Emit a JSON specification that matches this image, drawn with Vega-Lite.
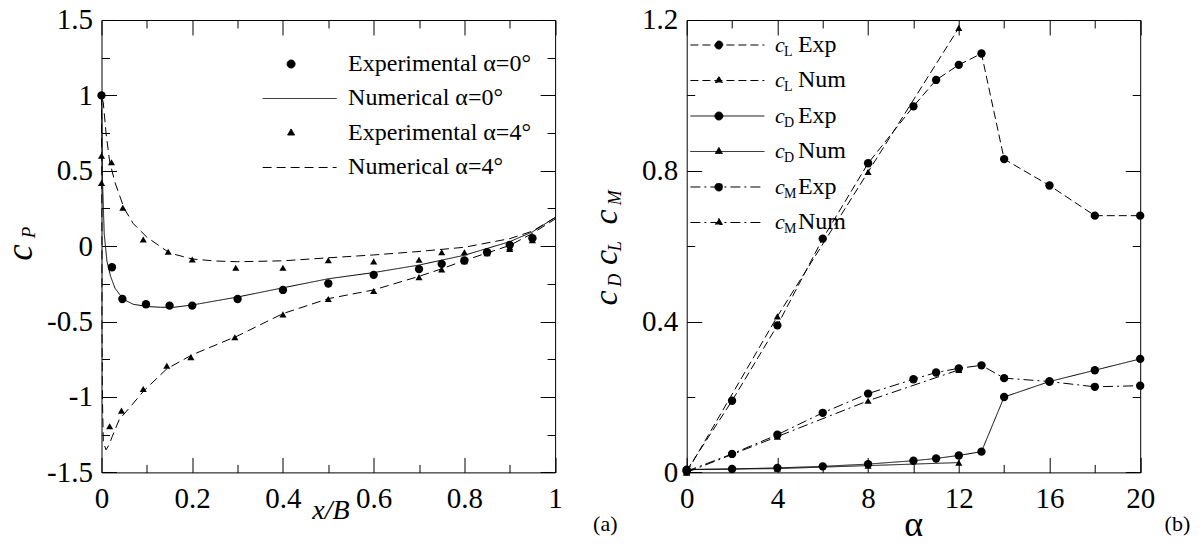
{
  "$schema": "https://vega.github.io/schema/vega-lite/v6.json",
  "padding": {"left": 0.5, "top": 5, "right": 5, "bottom": 5},
  "bounds": "flush",
  "spacing": 131.2,
  "resolve": {
    "scale": {"strokeDash": "independent", "opacity": "independent", "strokeWidth": "independent", "shape": "independent", "size": "independent"},
    "legend": {"strokeDash": "independent", "opacity": "independent", "strokeWidth": "independent"}
  },
  "datasets": {
    "cpNum": [
      {"series": "Numerical α=0°", "i": 0, "x": 0, "cp": 1.0},
      {"series": "Numerical α=0°", "i": 1, "x": 0.002, "cp": 0.45},
      {"series": "Numerical α=0°", "i": 2, "x": 0.006, "cp": 0.08},
      {"series": "Numerical α=0°", "i": 3, "x": 0.012, "cp": -0.1},
      {"series": "Numerical α=0°", "i": 4, "x": 0.02, "cp": -0.2},
      {"series": "Numerical α=0°", "i": 5, "x": 0.03, "cp": -0.28},
      {"series": "Numerical α=0°", "i": 6, "x": 0.04, "cp": -0.32},
      {"series": "Numerical α=0°", "i": 7, "x": 0.05, "cp": -0.355},
      {"series": "Numerical α=0°", "i": 8, "x": 0.07, "cp": -0.385},
      {"series": "Numerical α=0°", "i": 9, "x": 0.1, "cp": -0.4},
      {"series": "Numerical α=0°", "i": 10, "x": 0.13, "cp": -0.405},
      {"series": "Numerical α=0°", "i": 11, "x": 0.16, "cp": -0.405},
      {"series": "Numerical α=0°", "i": 12, "x": 0.2, "cp": -0.39},
      {"series": "Numerical α=0°", "i": 13, "x": 0.3, "cp": -0.337},
      {"series": "Numerical α=0°", "i": 14, "x": 0.4, "cp": -0.276},
      {"series": "Numerical α=0°", "i": 15, "x": 0.5, "cp": -0.216},
      {"series": "Numerical α=0°", "i": 16, "x": 0.6, "cp": -0.175},
      {"series": "Numerical α=0°", "i": 17, "x": 0.7, "cp": -0.125},
      {"series": "Numerical α=0°", "i": 18, "x": 0.8, "cp": -0.06},
      {"series": "Numerical α=0°", "i": 19, "x": 0.9, "cp": 0.03},
      {"series": "Numerical α=0°", "i": 20, "x": 0.95, "cp": 0.095},
      {"series": "Numerical α=0°", "i": 21, "x": 1.0, "cp": 0.19},
      {"series": "Numerical α=4°", "i": 0, "x": 1.0, "cp": 0.19},
      {"series": "Numerical α=4°", "i": 1, "x": 0.95, "cp": 0.1},
      {"series": "Numerical α=4°", "i": 2, "x": 0.9, "cp": 0.05},
      {"series": "Numerical α=4°", "i": 3, "x": 0.8, "cp": -0.007},
      {"series": "Numerical α=4°", "i": 4, "x": 0.7, "cp": -0.035},
      {"series": "Numerical α=4°", "i": 5, "x": 0.6, "cp": -0.058},
      {"series": "Numerical α=4°", "i": 6, "x": 0.5, "cp": -0.077},
      {"series": "Numerical α=4°", "i": 7, "x": 0.4, "cp": -0.097},
      {"series": "Numerical α=4°", "i": 8, "x": 0.3, "cp": -0.103},
      {"series": "Numerical α=4°", "i": 9, "x": 0.25, "cp": -0.098},
      {"series": "Numerical α=4°", "i": 10, "x": 0.2, "cp": -0.085},
      {"series": "Numerical α=4°", "i": 11, "x": 0.15, "cp": -0.045},
      {"series": "Numerical α=4°", "i": 12, "x": 0.1, "cp": 0.06},
      {"series": "Numerical α=4°", "i": 13, "x": 0.07, "cp": 0.15},
      {"series": "Numerical α=4°", "i": 14, "x": 0.05, "cp": 0.25},
      {"series": "Numerical α=4°", "i": 15, "x": 0.03, "cp": 0.42},
      {"series": "Numerical α=4°", "i": 16, "x": 0.018, "cp": 0.56},
      {"series": "Numerical α=4°", "i": 17, "x": 0.01, "cp": 0.75},
      {"series": "Numerical α=4°", "i": 18, "x": 0.004, "cp": 0.95},
      {"series": "Numerical α=4°", "i": 19, "x": 0.0, "cp": 1.0},
      {"series": "Numerical α=4°", "i": 20, "x": 0.0005, "cp": 0.5},
      {"series": "Numerical α=4°", "i": 21, "x": 0.001, "cp": 0.0},
      {"series": "Numerical α=4°", "i": 22, "x": 0.001, "cp": -0.5},
      {"series": "Numerical α=4°", "i": 23, "x": 0.002, "cp": -1.0},
      {"series": "Numerical α=4°", "i": 24, "x": 0.004, "cp": -1.3},
      {"series": "Numerical α=4°", "i": 25, "x": 0.01, "cp": -1.35},
      {"series": "Numerical α=4°", "i": 26, "x": 0.016, "cp": -1.32},
      {"series": "Numerical α=4°", "i": 27, "x": 0.024, "cp": -1.26},
      {"series": "Numerical α=4°", "i": 28, "x": 0.039, "cp": -1.15},
      {"series": "Numerical α=4°", "i": 29, "x": 0.065, "cp": -1.06},
      {"series": "Numerical α=4°", "i": 30, "x": 0.092, "cp": -0.963},
      {"series": "Numerical α=4°", "i": 31, "x": 0.144, "cp": -0.813},
      {"series": "Numerical α=4°", "i": 32, "x": 0.2, "cp": -0.72},
      {"series": "Numerical α=4°", "i": 33, "x": 0.3, "cp": -0.595},
      {"series": "Numerical α=4°", "i": 34, "x": 0.4, "cp": -0.447},
      {"series": "Numerical α=4°", "i": 35, "x": 0.5, "cp": -0.348},
      {"series": "Numerical α=4°", "i": 36, "x": 0.6, "cp": -0.29},
      {"series": "Numerical α=4°", "i": 37, "x": 0.7, "cp": -0.2},
      {"series": "Numerical α=4°", "i": 38, "x": 0.75, "cp": -0.15},
      {"series": "Numerical α=4°", "i": 39, "x": 0.8, "cp": -0.095},
      {"series": "Numerical α=4°", "i": 40, "x": 0.85, "cp": -0.045},
      {"series": "Numerical α=4°", "i": 41, "x": 0.9, "cp": 0.005},
      {"series": "Numerical α=4°", "i": 42, "x": 0.95, "cp": 0.085},
      {"series": "Numerical α=4°", "i": 43, "x": 1.0, "cp": 0.18}
    ],
    "cpExp": [
      {"series": "Experimental α=0°", "x": 0, "cp": 1.0},
      {"series": "Experimental α=0°", "x": 0.023, "cp": -0.14},
      {"series": "Experimental α=0°", "x": 0.046, "cp": -0.35},
      {"series": "Experimental α=0°", "x": 0.098, "cp": -0.385},
      {"series": "Experimental α=0°", "x": 0.15, "cp": -0.394},
      {"series": "Experimental α=0°", "x": 0.2, "cp": -0.394},
      {"series": "Experimental α=0°", "x": 0.3, "cp": -0.35},
      {"series": "Experimental α=0°", "x": 0.4, "cp": -0.29},
      {"series": "Experimental α=0°", "x": 0.5, "cp": -0.247},
      {"series": "Experimental α=0°", "x": 0.6, "cp": -0.19},
      {"series": "Experimental α=0°", "x": 0.7, "cp": -0.152},
      {"series": "Experimental α=0°", "x": 0.75, "cp": -0.117},
      {"series": "Experimental α=0°", "x": 0.8, "cp": -0.095},
      {"series": "Experimental α=0°", "x": 0.85, "cp": -0.04},
      {"series": "Experimental α=0°", "x": 0.9, "cp": 0.009},
      {"series": "Experimental α=0°", "x": 0.95, "cp": 0.053},
      {"series": "Experimental α=4°", "x": 0, "cp": 0.6},
      {"series": "Experimental α=4°", "x": 0.022, "cp": 0.557},
      {"series": "Experimental α=4°", "x": 0.047, "cp": 0.255},
      {"series": "Experimental α=4°", "x": 0.092, "cp": 0.044},
      {"series": "Experimental α=4°", "x": 0.147, "cp": -0.037},
      {"series": "Experimental α=4°", "x": 0.2, "cp": -0.088},
      {"series": "Experimental α=4°", "x": 0.296, "cp": -0.143},
      {"series": "Experimental α=4°", "x": 0.4, "cp": -0.143},
      {"series": "Experimental α=4°", "x": 0.5, "cp": -0.093},
      {"series": "Experimental α=4°", "x": 0.6, "cp": -0.101},
      {"series": "Experimental α=4°", "x": 0.7, "cp": -0.09},
      {"series": "Experimental α=4°", "x": 0.75, "cp": -0.04},
      {"series": "Experimental α=4°", "x": 0.8, "cp": -0.04},
      {"series": "Experimental α=4°", "x": 0.85, "cp": -0.035},
      {"series": "Experimental α=4°", "x": 0.9, "cp": -0.007},
      {"series": "Experimental α=4°", "x": 0, "cp": 0.42},
      {"series": "Experimental α=4°", "x": 0.018, "cp": -1.194},
      {"series": "Experimental α=4°", "x": 0.044, "cp": -1.09},
      {"series": "Experimental α=4°", "x": 0.092, "cp": -0.947},
      {"series": "Experimental α=4°", "x": 0.144, "cp": -0.793},
      {"series": "Experimental α=4°", "x": 0.197, "cp": -0.736},
      {"series": "Experimental α=4°", "x": 0.294, "cp": -0.604},
      {"series": "Experimental α=4°", "x": 0.4, "cp": -0.452},
      {"series": "Experimental α=4°", "x": 0.5, "cp": -0.35},
      {"series": "Experimental α=4°", "x": 0.6, "cp": -0.297},
      {"series": "Experimental α=4°", "x": 0.7, "cp": -0.205},
      {"series": "Experimental α=4°", "x": 0.75, "cp": -0.154},
      {"series": "Experimental α=4°", "x": 0.8, "cp": -0.1},
      {"series": "Experimental α=4°", "x": 0.85, "cp": -0.046},
      {"series": "Experimental α=4°", "x": 0.9, "cp": -0.018},
      {"series": "Experimental α=4°", "x": 0.95, "cp": 0.04}
    ],
    "coef": [
      {"series": "cL Exp", "a": 0, "c": 0.005},
      {"series": "cL Exp", "a": 2, "c": 0.19},
      {"series": "cL Exp", "a": 4, "c": 0.39},
      {"series": "cL Exp", "a": 6, "c": 0.62},
      {"series": "cL Exp", "a": 8, "c": 0.82},
      {"series": "cL Exp", "a": 10, "c": 0.971},
      {"series": "cL Exp", "a": 11, "c": 1.041},
      {"series": "cL Exp", "a": 12, "c": 1.081},
      {"series": "cL Exp", "a": 13, "c": 1.111},
      {"series": "cL Exp", "a": 14, "c": 0.831},
      {"series": "cL Exp", "a": 16, "c": 0.761},
      {"series": "cL Exp", "a": 18, "c": 0.681},
      {"series": "cL Exp", "a": 20, "c": 0.681},
      {"series": "cL Num", "a": 0, "c": 0.0},
      {"series": "cL Num", "a": 4, "c": 0.414},
      {"series": "cL Num", "a": 8, "c": 0.797},
      {"series": "cL Num", "a": 12, "c": 1.179},
      {"series": "cD Exp", "a": 0, "c": 0.007},
      {"series": "cD Exp", "a": 2, "c": 0.009},
      {"series": "cD Exp", "a": 4, "c": 0.012},
      {"series": "cD Exp", "a": 6, "c": 0.016},
      {"series": "cD Exp", "a": 8, "c": 0.022},
      {"series": "cD Exp", "a": 10, "c": 0.031},
      {"series": "cD Exp", "a": 11, "c": 0.037},
      {"series": "cD Exp", "a": 12, "c": 0.045},
      {"series": "cD Exp", "a": 13, "c": 0.055},
      {"series": "cD Exp", "a": 14, "c": 0.2},
      {"series": "cD Exp", "a": 16, "c": 0.241},
      {"series": "cD Exp", "a": 18, "c": 0.271},
      {"series": "cD Exp", "a": 20, "c": 0.301},
      {"series": "cD Num", "a": 0, "c": 0.008},
      {"series": "cD Num", "a": 4, "c": 0.01},
      {"series": "cD Num", "a": 8, "c": 0.018},
      {"series": "cD Num", "a": 12, "c": 0.026},
      {"series": "cM Exp", "a": 0, "c": 0.003},
      {"series": "cM Exp", "a": 2, "c": 0.049},
      {"series": "cM Exp", "a": 4, "c": 0.1},
      {"series": "cM Exp", "a": 6, "c": 0.158},
      {"series": "cM Exp", "a": 8, "c": 0.209},
      {"series": "cM Exp", "a": 10, "c": 0.247},
      {"series": "cM Exp", "a": 11, "c": 0.265},
      {"series": "cM Exp", "a": 12, "c": 0.276},
      {"series": "cM Exp", "a": 13, "c": 0.284},
      {"series": "cM Exp", "a": 14, "c": 0.25},
      {"series": "cM Exp", "a": 16, "c": 0.241},
      {"series": "cM Exp", "a": 18, "c": 0.227},
      {"series": "cM Exp", "a": 20, "c": 0.23},
      {"series": "cM Num", "a": 0, "c": 0.0},
      {"series": "cM Num", "a": 4, "c": 0.095},
      {"series": "cM Num", "a": 8, "c": 0.19},
      {"series": "cM Num", "a": 12, "c": 0.272}
    ]
  },
  "hconcat": [
    {
      "width": 453.6,
      "height": 452.4,
      "resolve": {"axis": {"x": "independent", "y": "independent"}},
      "layer": [
        {
          "data": {"name": "cpNum"},
          "transform": [{"filter": "datum.series == 'Numerical α=0°'"}],
          "mark": {"type": "line", "color": "black", "strokeWidth": 1},
          "encoding": {
            "x": {"field": "x", "type": "quantitative", "scale": {"domain": [0, 1], "nice": false},
              "axis": {"orient": "bottom", "values": [0, 0.2, 0.4, 0.6, 0.8, 1], "offset": -15, "tickSize": 15, "labelPadding": 12,
                "labelExpr": "toString(datum.value)",
                "title": "x/B", "titleFontStyle": "italic", "titleFontSize": 28, "titleX": 229, "titleY": 53, "titleBaseline": "middle", "titleAlign": "center", "titleAngle": 0}},
            "y": {"field": "cp", "type": "quantitative", "scale": {"domain": [-1.5, 1.5], "nice": false, "zero": false},
              "axis": {"orient": "left", "values": [-1.5, -1, -0.5, 0, 0.5, 1, 1.5], "offset": -15, "tickSize": 15, "labelPadding": 9,
                "labelExpr": "toString(datum.value)",
                "title": "c", "titleFontStyle": "italic", "titleFontSize": 37, "titleX": -85, "titleY": 232, "titleBaseline": "alphabetic", "titleAlign": "center", "titleAngle": -90}},
            "order": {"field": "i", "type": "quantitative"},
            "strokeDash": {"field": "series", "type": "nominal",
              "scale": {"domain": ["Experimental α=0°", "Numerical α=0°", "Experimental α=4°", "Numerical α=4°"], "range": [[1, 0], [1, 0], [1, 0], [9, 5]]},
              "legend": {"orient": "none", "legendX": 160.6, "legendY": 29, "title": null, "padding": 0,
                "symbolSize": 5476, "symbolStrokeWidth": 1, "symbolStrokeColor": "black", "symbolFillColor": "black",
                "clipHeight": 30, "rowPadding": 4.5, "labelOffset": 11, "labelFontSize": 24, "labelLimit": 400,
                "encode": {"symbols": {"update": {
                  "shape": {"signal": "datum.value == 'Experimental α=0°' ? 'M-0.338,0A0.108,0.108,0,1,0,-0.122,0A0.108,0.108,0,1,0,-0.338,0Z' : datum.value == 'Experimental α=4°' ? 'M-0.23,-0.11L-0.135,0.055L-0.325,0.055Z' : 'M-1,0L1,0'"},
                  "strokeDash": {"signal": "datum.value == 'Numerical α=4°' ? [3, 2] : [1, 0]"},
                  "fill": {"value": "black"}, "stroke": {"value": "black"}, "strokeWidth": {"value": 1}}}}}}
          }
        },
        {
          "data": {"name": "cpNum"},
          "transform": [{"filter": "datum.series == 'Numerical α=4°'"}],
          "mark": {"type": "line", "color": "black", "strokeWidth": 1, "strokeDash": [9, 5]},
          "encoding": {
            "x": {"field": "x", "type": "quantitative", "scale": {"domain": [0, 1], "nice": false},
              "axis": {"orient": "bottom", "values": [0.1, 0.3, 0.5, 0.7, 0.9], "offset": -8, "tickSize": 8, "labels": false, "title": null}},
            "y": {"field": "cp", "type": "quantitative", "scale": {"domain": [-1.5, 1.5], "nice": false, "zero": false},
              "axis": {"orient": "left", "values": [-1.25, -0.75, -0.25, 0.25, 0.75, 1.25], "offset": -8, "tickSize": 8, "labels": false, "title": null}},
            "order": {"field": "i", "type": "quantitative"}
          }
        },
        {
          "data": {"name": "cpExp"},
          "transform": [{"filter": "datum.series == 'Experimental α=0°'"}],
          "mark": {"type": "point", "shape": "circle", "size": 70, "filled": true, "color": "black", "opacity": 1},
          "encoding": {
            "x": {"field": "x", "type": "quantitative", "scale": {"domain": [0, 1], "nice": false},
              "axis": {"orient": "top", "values": [0, 0.2, 0.4, 0.6, 0.8, 1], "offset": -15, "tickSize": 15, "labels": false, "title": null}},
            "y": {"field": "cp", "type": "quantitative", "scale": {"domain": [-1.5, 1.5], "nice": false, "zero": false},
              "axis": {"orient": "right", "values": [-1.5, -1, -0.5, 0, 0.5, 1, 1.5], "offset": -15, "tickSize": 15, "labels": false,
                "title": "P", "titleFontStyle": "italic", "titleFontSize": 19, "titleX": -506, "titleY": 212, "titleBaseline": "alphabetic", "titleAlign": "center", "titleAngle": -90}}
          }
        },
        {
          "data": {"name": "cpExp"},
          "transform": [{"filter": "datum.series == 'Experimental α=4°'"}],
          "mark": {"type": "point", "shape": "triangle-up", "size": 50, "filled": true, "color": "black", "opacity": 1},
          "encoding": {
            "x": {"field": "x", "type": "quantitative", "scale": {"domain": [0, 1], "nice": false},
              "axis": {"orient": "top", "values": [0.1, 0.3, 0.5, 0.7, 0.9], "offset": -8, "tickSize": 8, "labels": false,
                "title": "(a)", "titleFontSize": 22, "titleX": 503.3, "titleY": 495.7, "titleBaseline": "middle", "titleAlign": "center", "titleAngle": 0}},
            "y": {"field": "cp", "type": "quantitative", "scale": {"domain": [-1.5, 1.5], "nice": false, "zero": false},
              "axis": {"orient": "right", "values": [-1.25, -0.75, -0.25, 0.25, 0.75, 1.25], "offset": -8, "tickSize": 8, "labels": false, "title": null}}
          }
        }
      ]
    },
    {
      "width": 453.5,
      "height": 452.4,
      "resolve": {"axis": {"x": "independent", "y": "independent"}},
      "layer": [
        {
          "data": {"name": "coef"},
          "mark": {"type": "line", "color": "black"},
          "encoding": {
            "x": {"field": "a", "type": "quantitative", "scale": {"domain": [0, 20], "nice": false},
              "axis": {"orient": "bottom", "values": [0, 4, 8, 12, 16, 20], "offset": -15, "tickSize": 15, "labelPadding": 12,
                "labelExpr": "toString(datum.value)",
                "title": "α", "titleFontSize": 36, "titleX": 226.5, "titleY": 67, "titleBaseline": "middle", "titleAlign": "center", "titleAngle": 0}},
            "y": {"field": "c", "type": "quantitative", "scale": {"domain": [0, 1.2], "nice": false},
              "axis": {"orient": "left", "values": [0, 0.4, 0.8, 1.2], "offset": -15, "tickSize": 15, "labelPadding": 9,
                "labelExpr": "toString(datum.value)",
                "title": "c\u00a0\u00a0\u00a0c\u00a0\u00a0\u00a0c", "titleFontStyle": "italic", "titleFontSize": 34, "titleX": -85, "titleY": 237, "titleBaseline": "alphabetic", "titleAlign": "center", "titleAngle": -90}},
            "strokeDash": {"field": "series", "type": "nominal",
              "scale": {"domain": ["cL Exp", "cL Num", "cD Exp", "cD Num", "cM Exp", "cM Num"], "range": [[8, 4], [8, 4], [1, 0], [1, 0], [10, 4, 2, 4], [10, 4, 2, 4]]},
              "legend": {"orient": "none", "legendX": 3.2, "legendY": 10, "title": null, "padding": 0,
                "symbolSize": 5476, "symbolStrokeWidth": 1, "symbolStrokeColor": "black", "symbolFillColor": "black",
                "clipHeight": 30, "rowPadding": 5.5, "labelOffset": 10, "labelFontSize": 22, "labelFontStyle": "italic",
                "labelExpr": "'c'",
                "encode": {"symbols": {"update": {
                  "shape": {"signal": "indexof(datum.value, 'Exp') >= 0 ? 'M-1,0L1,0M-0.338,0A0.108,0.108,0,1,0,-0.122,0A0.108,0.108,0,1,0,-0.338,0Z' : 'M-1,0L1,0M-0.23,-0.11L-0.135,0.055L-0.325,0.055Z'"},
                  "strokeDash": {"signal": "indexof(datum.value, 'cL') == 0 ? [3, 2] : indexof(datum.value, 'cM') == 0 ? [5, 3, 1, 3] : [1, 0]"},
                  "fill": {"value": "black"}, "stroke": {"value": "black"}, "strokeWidth": {"value": 1}}}}}},
            "opacity": {"field": "series", "type": "ordinal",
              "scale": {"type": "ordinal", "domain": ["cL Exp", "cL Num", "cD Exp", "cD Num", "cM Exp", "cM Num", "x1"], "range": [1, 1, 1, 1, 1, 1, 1]},
              "legend": {"orient": "none", "legendX": 3.2, "legendY": 10, "title": null, "padding": 0,
                "values": ["cL Exp", "cL Num", "cD Exp", "cD Num", "cM Exp", "cM Num"],
                "symbolSize": 5476, "symbolOpacity": 0, "symbolStrokeColor": "transparent", "symbolFillColor": "transparent", "symbolStrokeWidth": 0,
                "clipHeight": 30, "rowPadding": 5.5, "labelOffset": 20, "labelFontSize": 14,
                "labelBaseline": "top", "labelExpr": "substring(datum.label, 1, 2)",
                "encode": {"symbols": {"update": {"opacity": {"value": 0}, "stroke": {"value": "transparent"}, "fill": {"value": "transparent"}, "strokeWidth": {"value": 0}}}}}},
            "strokeWidth": {"field": "series", "type": "ordinal",
              "scale": {"type": "ordinal", "domain": ["cL Exp", "cL Num", "cD Exp", "cD Num", "cM Exp", "cM Num", "x2"], "range": [1, 1, 1, 1, 1, 1, 1]},
              "legend": {"orient": "none", "legendX": 3.2, "legendY": 10, "title": null, "padding": 0,
                "values": ["cL Exp", "cL Num", "cD Exp", "cD Num", "cM Exp", "cM Num"],
                "symbolSize": 5476, "symbolOpacity": 0, "symbolStrokeColor": "transparent", "symbolFillColor": "transparent",
                "clipHeight": 30, "rowPadding": 5.5, "labelOffset": 33, "labelFontSize": 24,
                "labelExpr": "substring(datum.label, 3)",
                "encode": {"symbols": {"update": {"opacity": {"value": 0}, "stroke": {"value": "transparent"}, "fill": {"value": "transparent"}, "strokeWidth": {"value": 0}}}}}}
          }
        },
        {
          "data": {"name": "coef"},
          "transform": [{"filter": "indexof(datum.series, 'Exp') >= 0 && indexof(datum.series, 'cM') < 0"}],
          "mark": {"type": "point", "shape": "circle", "size": 70, "filled": true, "color": "black", "opacity": 1},
          "encoding": {
            "x": {"field": "a", "type": "quantitative", "scale": {"domain": [0, 20], "nice": false},
              "axis": {"orient": "bottom", "values": [2, 6, 10, 14, 18], "offset": -8, "tickSize": 8, "labels": false, "title": null}},
            "y": {"field": "c", "type": "quantitative", "scale": {"domain": [0, 1.2], "nice": false},
              "axis": {"orient": "left", "values": [0.2, 0.6, 1.0], "offset": -8, "tickSize": 8, "labels": false, "title": null}}
          }
        },
        {
          "data": {"name": "coef"},
          "transform": [{"filter": "indexof(datum.series, 'Num') >= 0"}],
          "mark": {"type": "point", "shape": "triangle-up", "size": 50, "filled": true, "color": "black", "opacity": 1},
          "encoding": {
            "x": {"field": "a", "type": "quantitative", "scale": {"domain": [0, 20], "nice": false},
              "axis": {"orient": "top", "values": [0, 4, 8, 12, 16, 20], "offset": -15, "tickSize": 15, "labels": false, "title": null}},
            "y": {"field": "c", "type": "quantitative", "scale": {"domain": [0, 1.2], "nice": false},
              "axis": {"orient": "right", "values": [0, 0.4, 0.8, 1.2], "offset": -15, "tickSize": 15, "labels": false,
                "title": "D\u00a0\u00a0\u00a0\u00a0\u00a0L\u00a0\u00a0\u00a0\u00a0\u00a0\u00a0\u00a0\u00a0M", "titleFontStyle": "italic", "titleFontSize": 18, "titleX": -505, "titleY": 218, "titleBaseline": "alphabetic", "titleAlign": "center", "titleAngle": -90}}
          }
        },
        {
          "data": {"name": "coef"},
          "transform": [{"filter": "datum.series == 'cM Exp'"}],
          "mark": {"type": "point", "shape": "circle", "size": 70, "filled": true, "color": "black", "opacity": 1},
          "encoding": {
            "x": {"field": "a", "type": "quantitative", "scale": {"domain": [0, 20], "nice": false},
              "axis": {"orient": "top", "values": [2, 6, 10, 14, 18], "offset": -8, "tickSize": 8, "labels": false,
                "title": "(b)", "titleFontSize": 22, "titleX": 490.2, "titleY": 495.7, "titleBaseline": "middle", "titleAlign": "center", "titleAngle": 0}},
            "y": {"field": "c", "type": "quantitative", "scale": {"domain": [0, 1.2], "nice": false},
              "axis": {"orient": "right", "values": [0.2, 0.6, 1.0], "offset": -8, "tickSize": 8, "labels": false, "title": null}}
          }
        }
      ]
    }
  ],
  "config": {
    "font": "Liberation Serif",
    "view": {"stroke": "black", "strokeWidth": 1},
    "axis": {"labelFont": "Liberation Serif", "labelFontSize": 29, "labelColor": "black", "titleFont": "Liberation Serif", "titleColor": "black", "titleFontWeight": "normal",
      "ticks": true, "tickColor": "black", "tickWidth": 1, "domain": false, "grid": false, "labelOverlap": false, "labelFlush": false, "labelBound": false},
    "legend": {"labelFont": "Liberation Serif", "labelColor": "black"}
  }
}
